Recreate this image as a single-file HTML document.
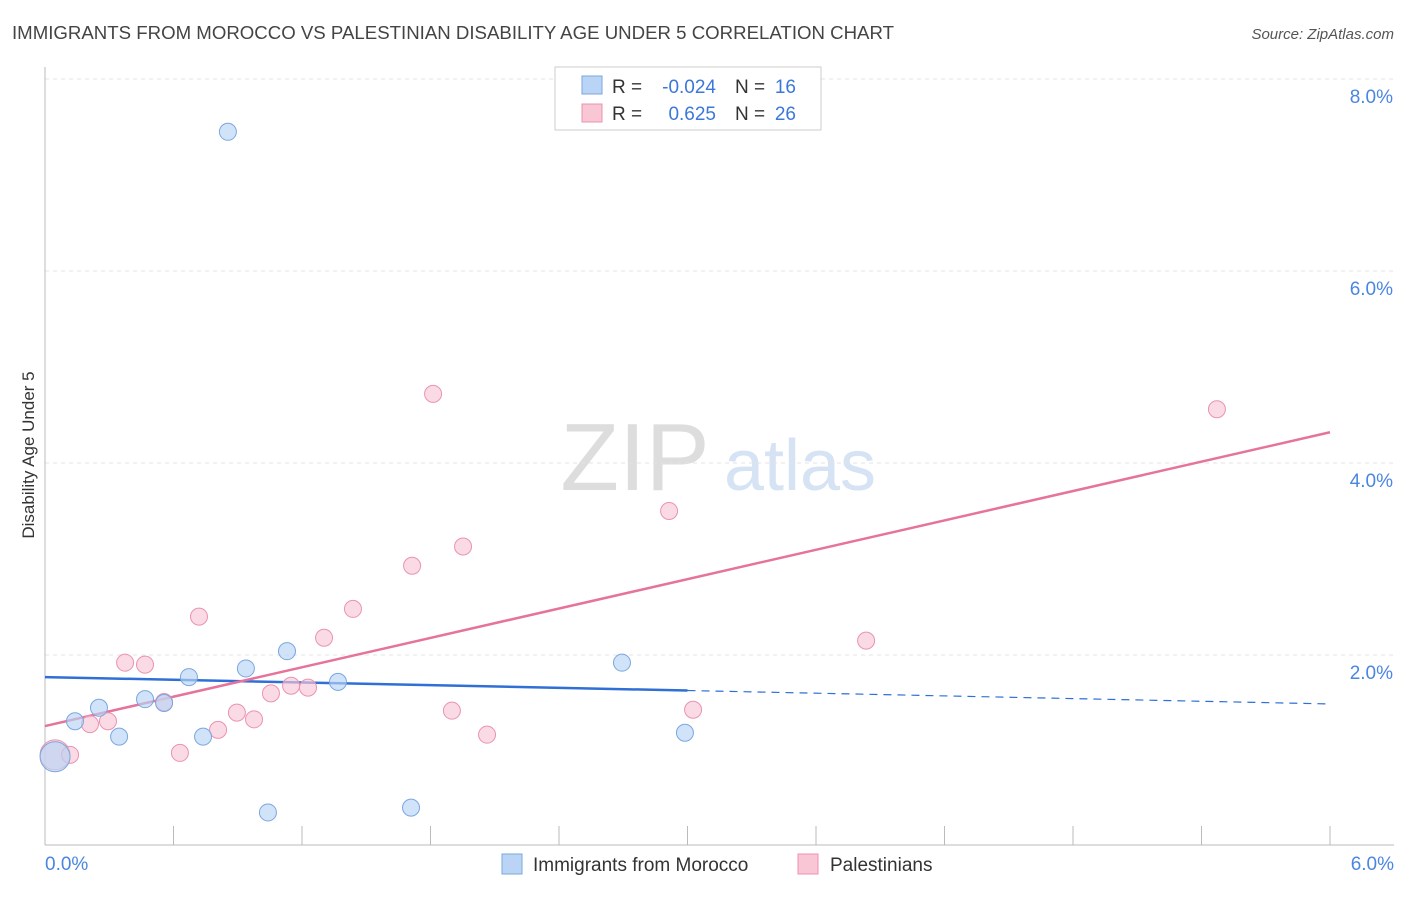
<!DOCTYPE html>
<html><head><meta charset="utf-8">
<style>
body{margin:0;background:#fff;font-family:"Liberation Sans",sans-serif;}
svg text{font-family:"Liberation Sans",sans-serif;}
</style></head>
<body>
<svg id="chart" width="1406" height="892" viewBox="0 0 1406 892" xmlns="http://www.w3.org/2000/svg">
<text x="12" y="39" font-size="18" fill="#444" textLength="882" lengthAdjust="spacingAndGlyphs">IMMIGRANTS FROM MOROCCO VS PALESTINIAN DISABILITY AGE UNDER 5 CORRELATION CHART</text>
<text x="1394" y="39" font-size="15" fill="#555" text-anchor="end" font-style="italic">Source: ZipAtlas.com</text>
<text transform="translate(34,455) rotate(-90)" font-size="17" fill="#333" text-anchor="middle">Disability Age Under 5</text>
<g>
<text x="635" y="490" font-size="96" fill="#ddd" text-anchor="middle" font-family="Liberation Serif">ZIP</text>
<text x="800" y="490" font-size="72" fill="#d6e3f4" text-anchor="middle">atlas</text>
</g>
<g id="grid"></g><g id="axes"></g><g id="lines"></g><g id="points"></g>
<g>
<rect x="555" y="67" width="266" height="63" fill="#fff" stroke="#ccc"/>
<rect x="582" y="76" width="20" height="18" fill="#b9d4f5" stroke="#7aa7e0"/>
<rect x="582" y="104" width="20" height="18" fill="#f8c6d5" stroke="#eb93b0"/>
<text x="612" y="93" font-size="19" fill="#333">R =</text>
<text x="716" y="93" font-size="19" fill="#3b78d8" text-anchor="end">-0.024</text>
<text x="735" y="93" font-size="19" fill="#333">N =</text>
<text x="796" y="93" font-size="19" fill="#3b78d8" text-anchor="end">16</text>
<text x="612" y="120" font-size="19" fill="#333">R =</text>
<text x="716" y="120" font-size="19" fill="#3b78d8" text-anchor="end">0.625</text>
<text x="735" y="120" font-size="19" fill="#333">N =</text>
<text x="796" y="120" font-size="19" fill="#3b78d8" text-anchor="end">26</text>
</g>
<g>
<rect x="502" y="854" width="20" height="20" fill="#b9d4f5" stroke="#7aa7e0"/>
<text x="533" y="871" font-size="19" fill="#333">Immigrants from Morocco</text>
<rect x="798" y="854" width="20" height="20" fill="#f8c6d5" stroke="#eb93b0"/>
<text x="830" y="871" font-size="19" fill="#333">Palestinians</text>
</g>
</svg>
<script>
const xTicks=[0,0.6,1.2,1.8,2.4,3.0,3.6,4.2,4.8,5.4,6.0];
const yTicks=[2,4,6,8];
const yTickLabels=["2.0%","4.0%","6.0%","8.0%"];
const xEndLabels=["0.0%","6.0%"];
const moroccoX=[0.854,0.047,0.140,0.252,0.346,0.467,0.556,0.672,0.738,0.938,1.041,1.130,1.368,1.709,2.694,2.988];
const moroccoY=[7.45,0.94,1.31,1.45,1.15,1.54,1.50,1.77,1.15,1.86,0.36,2.04,1.72,0.41,1.92,1.19];
const palX=[0.047,0.117,0.210,0.294,0.374,0.467,0.556,0.630,0.719,0.808,0.896,0.976,1.055,1.149,1.228,1.303,1.438,1.714,1.812,1.900,1.952,2.064,2.914,3.026,3.834,5.472];
const palY=[0.96,0.96,1.28,1.31,1.92,1.90,1.51,0.98,2.40,1.22,1.40,1.33,1.60,1.68,1.66,2.18,2.48,2.93,4.72,1.42,3.13,1.17,3.50,1.43,2.15,4.56];
const moroccoTrend=[1.77,1.49];
const palTrend=[1.26,4.32];
const moroccoSolidEnd=3.0;
const NS="http://www.w3.org/2000/svg";
const X=v=>45+v/6*1285, Y=v=>847-v*96;
function mk(t,a,p){const e=document.createElementNS(NS,t);for(const k in a)e.setAttribute(k,a[k]);p.appendChild(e);return e;}
const grid=document.getElementById('grid'),axes=document.getElementById('axes'),lines=document.getElementById('lines'),pts=document.getElementById('points');
yTicks.forEach((t,i)=>{
 const l=mk('line',{x1:45,x2:1394,y1:Y(t),y2:Y(t),stroke:'#e3e3e3','stroke-dasharray':'4,4'},grid);
 
 
 const tx=mk('text',{x:1393,y:Y(t)+24,'font-size':19,fill:'#4a86e0','text-anchor':'end'},axes);tx.textContent=yTickLabels[i];
 
 
});
const ax=mk('line',{x1:45,x2:1394,y1:845,y2:845,stroke:'#bbb'},axes);


const ay=mk('line',{x1:45,x2:45,y1:67,y2:845,stroke:'#bbb'},axes);


xTicks.forEach(t=>{const l=mk('line',{x1:X(t),x2:X(t),y1:826,y2:845,stroke:'#bbb'},axes);
 
 });
[[0,'start',45],[6,'end',1394]].forEach((d,i)=>{const tx=mk('text',{x:d[2],y:870,'font-size':19,fill:'#4a86e0','text-anchor':d[1]},axes);tx.textContent=xEndLabels[i];
 
 });
const yAt=(tr,x)=>tr[0]+(tr[1]-tr[0])*x/6;
let l1=mk('line',{x1:X(0),y1:Y(moroccoTrend[0]),x2:X(moroccoSolidEnd),y2:Y(yAt(moroccoTrend,moroccoSolidEnd)),stroke:'#2f6fd6','stroke-width':2.5},lines);


let l2=mk('line',{x1:X(moroccoSolidEnd),y1:Y(yAt(moroccoTrend,moroccoSolidEnd)),x2:X(6),y2:Y(moroccoTrend[1]),stroke:'#2f6fd6','stroke-width':1.2,'stroke-dasharray':'8,6'},lines);


let l3=mk('line',{x1:X(0),y1:Y(palTrend[0]),x2:X(6),y2:Y(palTrend[1]),stroke:'#e5739b','stroke-width':2.5},lines);


palX.forEach((x,i)=>{const c=mk('circle',{cx:X(x),cy:Y(palY[i]),r:i==0?15:8.5,fill:'#f8c6d5','fill-opacity':0.65,stroke:'#eb93b0','stroke-width':1},pts);
 
 });
moroccoX.forEach((x,i)=>{const c=mk('circle',{cx:X(x),cy:Y(moroccoY[i]),r:i==1?15:8.5,fill:'#b9d4f5','fill-opacity':0.65,stroke:'#7aa7e0','stroke-width':1},pts);
 
 });
</script>
</body></html>
